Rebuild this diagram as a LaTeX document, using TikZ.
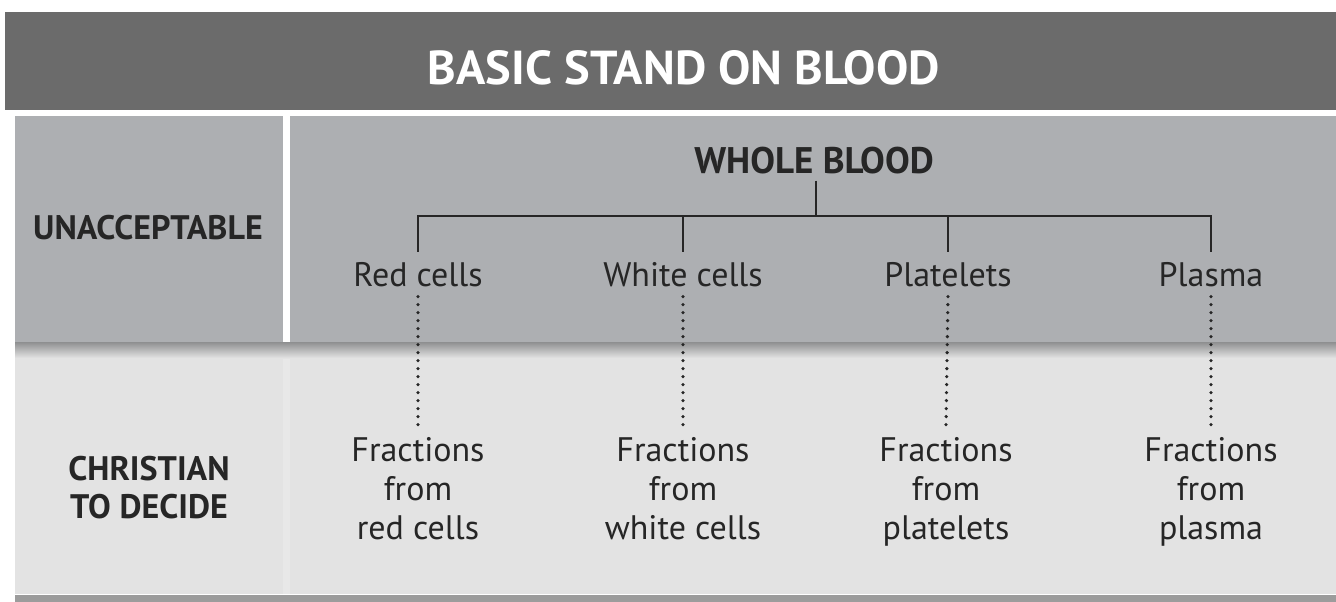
\documentclass[tikz,border=0pt]{standalone}
\usepackage{fontspec}
\setmainfont{PT Sans}
\definecolor{titlegray}{HTML}{6B6B6B}
\definecolor{rowone}{HTML}{ADAFB2}
\definecolor{rowtwo}{HTML}{E3E3E3}
\definecolor{rowtwogap}{HTML}{E8E8E8}
\definecolor{shadowgray}{HTML}{8E8F90}
\definecolor{inkgray}{HTML}{262626}
\definecolor{bottomgray}{HTML}{9C9C9C}
\tikzset{
  lbl/.style={inner xsep=0pt, inner ysep=10pt, text=inkgray, font=\fontsize{34}{39}\selectfont},
  fraclbl/.style={inner xsep=0pt, inner ysep=11pt, text=inkgray, align=center, font=\fontsize{34}{39}\selectfont},
  boldlbl/.style={inner sep=0pt, text=inkgray, align=center, font=\fontsize{34}{38}\selectfont\bfseries},
  headlbl/.style={inner ysep=7pt, inner xsep=0pt, text=inkgray, font=\fontsize{37}{39}\selectfont\bfseries},
  treeline/.style={draw=inkgray, line width=1.6pt},
  dotline/.style={draw=inkgray, line width=3.6pt, line cap=round, dash pattern=on 0pt off 8pt}
}
\begin{document}
\begin{tikzpicture}[x=1pt,y=-1pt]
\useasboundingbox (0,0) rectangle (1336,602);
\fill[white] (0,0) rectangle (1336,602);
% bands
\fill[titlegray] (5,12) rectangle (1336,110);
\fill[rowone] (15,116) rectangle (283,342);
\fill[rowone] (290,116) rectangle (1336,342);
\fill[rowtwo] (15,352) rectangle (1336,594);
\fill[rowtwogap] (283,356) rectangle (290,594);
\shade[top color=shadowgray, bottom color=rowtwo] (15,342) rectangle (1336,358);
\fill[bottomgray] (15,595) rectangle (1336,602);
% title
\node[inner sep=0pt, text=white] (title) at (684,68)
  {\resizebox{512pt}{34pt}{\bfseries BASIC STAND ON BLOOD}};
% row labels
\node[boldlbl, anchor=base] (unacc) at (148,239) {UNACCEPTABLE};
\node[boldlbl, anchor=center] (christian) at (149,487.5) {CHRISTIAN\\TO DECIDE};
% tree
\node[headlbl, anchor=base] (whole) at (814,173) {WHOLE BLOOD};
\node[lbl, anchor=base] (red) at (418,286) {Red cells};
\node[lbl, anchor=base] (white) at (683,286) {White cells};
\node[lbl, anchor=base] (plate) at (948,286) {Platelets};
\node[lbl, anchor=base] (plasma) at (1211,286) {Plasma};
\coordinate (bus) at (816,216);
\draw[treeline] (whole.south -| bus) -- (bus);
\draw[treeline] (red.north) -- (red.north |- bus) -- (plasma.north |- bus) -- (plasma.north);
\draw[treeline] (white.north |- bus) -- (white.north);
\draw[treeline] (plate.north |- bus) -- (plate.north);
% fractions
\node[fraclbl, anchor=north] (fred) at (418,426) {Fractions\\from\\red cells};
\node[fraclbl, anchor=north] (fwhite) at (683,426) {Fractions\\from\\white cells};
\node[fraclbl, anchor=north] (fplate) at (946,426) {Fractions\\from\\platelets};
\node[fraclbl, anchor=north] (fplasma) at (1211,426) {Fractions\\from\\plasma};
\draw[dotline] (red.south) -- (fred.north);
\draw[dotline] (white.south) -- (fwhite.north);
\draw[dotline] (plate.south) -- (fplate.north);
\draw[dotline] (plasma.south) -- (fplasma.north);
\end{tikzpicture}
\end{document}
